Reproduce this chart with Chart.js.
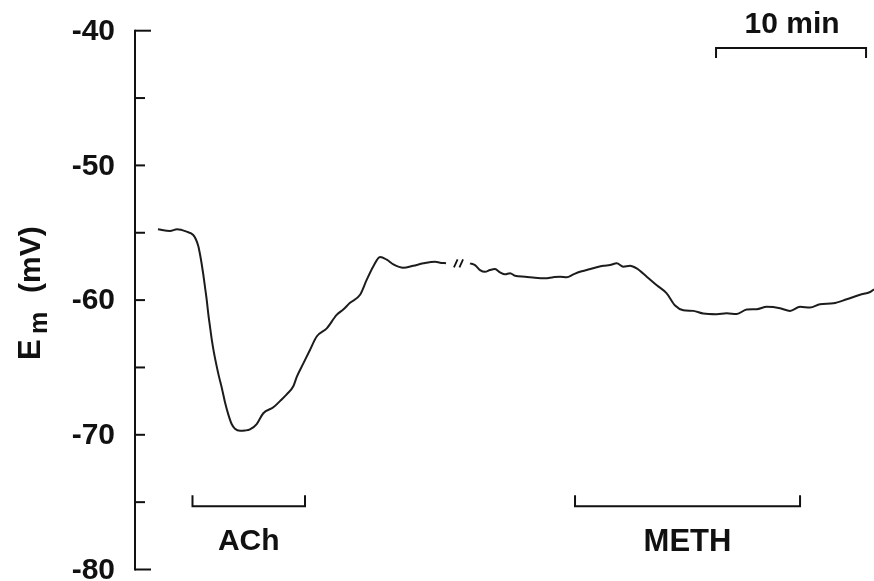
<!DOCTYPE html>
<html>
<head>
<meta charset="utf-8">
<script src="https://cdn.jsdelivr.net/npm/chart.js@4"></script>
<style>
  html, body { margin: 0; padding: 0; background: #ffffff; }
  canvas { display: block; }
</style>
</head>
<body>
<canvas id="trace" width="874" height="581"></canvas>
<script>
// Membrane potential recording (minutes, mV), split at the gap in the record
const segATime = [0, 0.8, 1.27, 1.91, 2.35, 2.53, 2.69, 2.8, 2.91, 3.02, 3.13, 3.25, 3.35, 3.47, 3.58, 3.73, 3.91, 4.07, 4.25, 4.47, 4.69, 4.91, 5.13, 5.47, 5.8, 6.13, 6.58, 7.02, 7.69, 8.13, 8.58, 9.02, 9.25, 9.69, 10.13, 10.58, 11.25, 11.91, 12.35, 12.8, 13.47, 13.91, 14.35, 14.8, 15.25, 15.69, 16.35, 17.02, 17.69, 18.47, 18.8, 19.2];
const segAEm   = [-54.74, -54.87, -54.74, -54.92, -55.17, -55.5, -56.0, -56.6, -57.3, -58.1, -59.0, -60.0, -61.0, -62.0, -62.9, -63.9, -64.9, -65.7, -66.5, -67.6, -68.5, -69.2, -69.55, -69.7, -69.68, -69.6, -69.2, -68.4, -67.96, -67.5, -67.0, -66.4, -65.7, -64.7, -63.7, -62.7, -62.1, -61.1, -60.7, -60.2, -59.6, -58.5, -57.5, -56.8, -57.0, -57.35, -57.6, -57.45, -57.27, -57.15, -57.22, -57.27];

const segBTime = [20.8, 21.13, 21.47, 21.8, 22.13, 22.47, 22.8, 23.13, 23.47, 23.8, 24.47, 25.13, 25.8, 26.35, 26.8, 27.25, 27.69, 28.13, 28.58, 29.13, 29.69, 30.13, 30.58, 31.02, 31.47, 31.91, 32.58, 33.25, 33.91, 34.47, 35.02, 35.69, 36.35, 37.25, 37.91, 38.58, 39.25, 39.91, 40.58, 41.47, 42.13, 42.8, 43.47, 44.13, 45.02, 45.91, 46.8, 47.47, 47.73];
const segBEm   = [-57.27, -57.4, -57.77, -57.9, -57.77, -57.7, -57.94, -58.09, -58.0, -58.19, -58.26, -58.34, -58.38, -58.3, -58.26, -58.3, -58.09, -57.9, -57.77, -57.6, -57.45, -57.4, -57.27, -57.52, -57.45, -57.65, -58.26, -58.9, -59.5, -60.4, -60.75, -60.8, -61.0, -61.05, -60.98, -61.03, -60.7, -60.68, -60.5, -60.6, -60.8, -60.5, -60.55, -60.3, -60.24, -59.94, -59.6, -59.4, -59.2];

// Y axis ticks (every 5 mV, labelled every 10 mV)
const yTickValues = [-80, -75, -70, -65, -60, -55, -50, -45, -40];
const yTickLabels = ['-80', '', '-70', '', '-60', '', '-50', '', '-40'];

// Drug application periods (minutes)
const drugNames = ['ACh', 'METH'];
const drugStart = [2.3, 27.8];
const drugEnd   = [9.8, 42.8];
const drugBarLevel = -75.3;

// Time scale bar
const scaleBarStart = 37.2;
const scaleBarMinutes = 10;
const scaleBarLabel = '10 min';
const scaleBarLevel = -41.28;

// Gap in the record
const gapTime = 20.05;
const gapEm = -57.27;

const INK = '#111111';
const FONT = '"Liberation Sans", Arial, sans-serif';

function toPoints(ts, vs) { return ts.map((t, i) => ({ x: t, y: vs[i] })); }

const annotations = {
  id: 'annotations',
  afterDraw(chart) {
    const ctx = chart.ctx;
    const xs = chart.scales.x, ys = chart.scales.y;
    const left = chart.chartArea.left;
    ctx.save();
    ctx.strokeStyle = INK;
    ctx.fillStyle = INK;
    ctx.lineCap = 'butt';

    // vertical axis with inward ticks
    const yTop = ys.getPixelForValue(-40), yBot = ys.getPixelForValue(-80);
    ctx.lineWidth = 2;
    ctx.beginPath();
    ctx.moveTo(left, yTop - 1);
    ctx.lineTo(left, yBot + 1);
    ctx.stroke();
    ctx.font = 'bold 30px ' + FONT;
    ctx.textAlign = 'right';
    ctx.textBaseline = 'middle';
    yTickValues.forEach((v, i) => {
      const py = ys.getPixelForValue(v);
      const len = (i === 0 || i === yTickValues.length - 1) ? 16 : 10;
      ctx.beginPath();
      ctx.moveTo(left, py);
      ctx.lineTo(left + len, py);
      ctx.stroke();
      if (yTickLabels[i]) ctx.fillText(yTickLabels[i], left - 20, py + 1);
    });

    // axis title: E_m (mV), reading upward
    ctx.save();
    ctx.translate(40, 360);
    ctx.rotate(-Math.PI / 2);
    ctx.textAlign = 'left';
    ctx.textBaseline = 'alphabetic';
    ctx.font = 'bold 31px ' + FONT;
    ctx.fillText('E', 0, 0);
    ctx.font = 'bold 25px ' + FONT;
    ctx.fillText('m', 26, 7);
    ctx.font = 'bold 30px ' + FONT;
    ctx.fillText('(mV)', 67, 0);
    ctx.restore();

    // drug application bars
    ctx.lineWidth = 2;
    ctx.textAlign = 'center';
    ctx.textBaseline = 'middle';
    const by = ys.getPixelForValue(drugBarLevel);
    drugNames.forEach((name, i) => {
      const x0 = xs.getPixelForValue(drugStart[i]);
      const x1 = xs.getPixelForValue(drugEnd[i]);
      ctx.beginPath();
      ctx.moveTo(x0, by - 11);
      ctx.lineTo(x0, by);
      ctx.lineTo(x1, by);
      ctx.lineTo(x1, by - 11);
      ctx.stroke();
      ctx.font = 'bold ' + (i === 1 ? 31 : 30) + 'px ' + FONT;
      ctx.fillText(name, (x0 + x1) / 2, by + 36);
    });

    // time scale bar
    const sy = ys.getPixelForValue(scaleBarLevel);
    const s0 = xs.getPixelForValue(scaleBarStart);
    const s1 = xs.getPixelForValue(scaleBarStart + scaleBarMinutes);
    ctx.beginPath();
    ctx.moveTo(s0, sy + 10);
    ctx.lineTo(s0, sy);
    ctx.lineTo(s1, sy);
    ctx.lineTo(s1, sy + 10);
    ctx.stroke();
    ctx.font = 'bold 30px ' + FONT;
    ctx.fillText(scaleBarLabel, (s0 + s1) / 2 + 1, sy - 23);

    // gap marks
    const gx = xs.getPixelForValue(gapTime), gy = ys.getPixelForValue(gapEm);
    ctx.lineWidth = 1.8;
    [-3, 2.5].forEach(dx => {
      ctx.beginPath();
      ctx.moveTo(gx + dx - 1.8, gy + 4);
      ctx.lineTo(gx + dx + 1.8, gy - 4);
      ctx.stroke();
    });
    ctx.restore();
  }
};

const lineStyle = {
  borderColor: '#1c1c1c',
  borderWidth: 2,
  pointRadius: 0,
  fill: false,
  cubicInterpolationMode: 'monotone'
};

new Chart(document.getElementById('trace'), {
  type: 'line',
  data: {
    datasets: [
      Object.assign({ label: 'Em before gap', data: toPoints(segATime, segAEm) }, lineStyle),
      Object.assign({ label: 'Em after gap', data: toPoints(segBTime, segBEm) }, lineStyle)
    ]
  },
  options: {
    responsive: false,
    devicePixelRatio: 1,
    animation: false,
    clip: false,
    layout: { padding: { left: 135, right: 0, top: 30.7, bottom: 11.5 } },
    scales: {
      x: { type: 'linear', min: -1.533, max: 47.73, display: false },
      y: { min: -80, max: -40, display: false }
    },
    plugins: { legend: { display: false }, tooltip: { enabled: false } }
  },
  plugins: [annotations]
});
</script>
</body>
</html>
